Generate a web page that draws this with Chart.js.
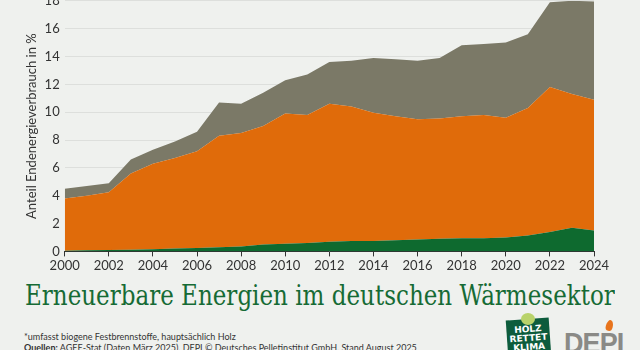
<!DOCTYPE html>
<html lang="de">
<head>
<meta charset="UTF-8">
<title>Erneuerbare Energien im deutschen Wärmesektor</title>
<script src="https://cdn.jsdelivr.net/npm/chart.js"></script>
<style>
  html, body { margin: 0; padding: 0; }
  body { width: 640px; height: 350px; overflow: hidden; background: #eff1ee; position: relative; font-family: Lato, sans-serif; }
  #chart-box { position: absolute; left: 0; top: -12px; width: 640px; height: 288px; }
  #title { position: absolute; left: 25px; top: 282px; font-family: "DejaVu Serif", serif; font-size: 27px; line-height: 1; color: #166b35; white-space: nowrap; transform-origin: left top; }
  .note { position: absolute; left: 24px; font-size: 10px; line-height: 1; color: #333; white-space: nowrap; transform-origin: left top; transform: scaleX(0.9); }
  #note1 { top: 331px; }
  #note2 { top: 342px; }
  #holz { position: absolute; left: 507px; top: 319px; width: 43px; height: 38px; background: #0d5c3c; transform: rotate(-4deg); color: #fff; font: bold 9px/9px "DejaVu Sans", sans-serif; text-align: center; padding-top: 6px; box-sizing: border-box; }
  #leaf { position: absolute; left: 521px; top: 313px; width: 14px; height: 12px; border-radius: 50%; background: #b9d36a; }
  #depi { position: absolute; left: 564px; top: 328px; font: bold 30px/1 "Liberation Sans", sans-serif; color: #8a8a86; letter-spacing: -1px; transform: scaleX(0.9); transform-origin: left top; }
  #flame { position: absolute; left: 606px; top: 320px; width: 7px; height: 11px; background: #e8741c; border-radius: 50% 50% 50% 50% / 60% 60% 40% 40%; transform: rotate(15deg); }
</style>
</head>
<body>

<div id="chart-box"><canvas id="myChart"></canvas></div>

<div id="title">Erneuerbare Energien im deutschen Wärmesektor</div>
<div class="note" id="note1">*umfasst biogene Festbrennstoffe, hauptsächlich Holz</div>
<div class="note" id="note2"><b>Quellen:</b> AGEE-Stat (Daten März 2025), DEPI © Deutsches Pelletinstitut GmbH, Stand August 2025</div>

<div id="holz">HOLZ<br>RETTET<br>KLIMA</div>
<div id="leaf"></div>
<div id="depi">DEPI</div>
<div id="flame"></div>

<script>
// Jahre
const years = [2000, 2001, 2002, 2003, 2004, 2005, 2006, 2007, 2008, 2009, 2010, 2011, 2012,
               2013, 2014, 2015, 2016, 2017, 2018, 2019, 2020, 2021, 2022, 2023, 2024];

// Anteile in % (gestapelt, von unten nach oben)
const gruen = [0.05, 0.08, 0.10, 0.12, 0.15, 0.20, 0.25, 0.30, 0.35, 0.50, 0.55, 0.60, 0.70,
               0.75, 0.75, 0.80, 0.85, 0.90, 0.95, 0.95, 1.00, 1.15, 1.40, 1.70, 1.50];
const festbrennstoffe = [3.75, 3.92, 4.15, 5.48, 6.15, 6.50, 6.95, 8.00, 8.15, 8.50, 9.35, 9.20, 9.90,
                         9.65, 9.20, 8.90, 8.65, 8.65, 8.75, 8.85, 8.60, 9.15, 10.40, 9.60, 9.40];
const sonstige = [0.70, 0.70, 0.65, 1.00, 1.00, 1.20, 1.40, 2.40, 2.10, 2.40, 2.40, 2.90, 3.00,
                  3.30, 3.95, 4.10, 4.20, 4.35, 5.10, 5.10, 5.40, 5.30, 6.10, 6.70, 7.05];

const yTicks = [0, 2, 4, 6, 8, 10, 12, 14, 16, 18];

// Titel auf die Breite des Originals bringen
const title = document.getElementById('title');
title.style.transform = 'scaleX(' + (590 / title.scrollWidth) + ')';

function area(label, data, color, fill) {
  return {
    label: label,
    data: data,
    backgroundColor: color,
    borderColor: color,
    borderWidth: 0,
    pointRadius: 0,
    tension: 0,
    fill: fill
  };
}

const ctx = document.getElementById('myChart').getContext('2d');
new Chart(ctx, {
  type: 'line',
  data: {
    labels: years,
    datasets: [
      area('Sonstige', gruen, '#0e6a2f', 'origin'),
      area('Biogene Festbrennstoffe*', festbrennstoffe, '#e06b0a', '-1'),
      area('Weitere Erneuerbare', sonstige, '#7b7967', '-1')
    ]
  },
  options: {
    responsive: true,
    maintainAspectRatio: false,
    animation: false,
    layout: { padding: { left: 24, right: 46, top: 0, bottom: 0 } },
    plugins: {
      legend: { display: false },
      tooltip: { enabled: false }
    },
    scales: {
      x: {
        offset: false,
        grid: { display: true, drawOnChartArea: false, drawTicks: true, tickLength: 5, color: '#333' },
        border: { display: true, color: '#333', width: 1 },
        ticks: {
          autoSkip: false,
          maxRotation: 0,
          color: '#333',
          font: { family: 'Lato', size: 13 },
          padding: 2,
          callback: function(v, i) { return years[i] % 2 === 0 ? String(years[i]) : null; }
        }
      },
      y: {
        stacked: true,
        min: 0,
        max: 18,
        z: 1,
        afterBuildTicks: function(axis) { axis.ticks = yTicks.map(v => ({ value: v })); },
        grid: { color: 'rgba(0,0,0,0.075)', drawTicks: false },
        border: { display: false },
        ticks: { color: '#333', font: { family: 'Lato', size: 13 }, padding: 5 },
        title: {
          display: true,
          text: 'Anteil Endenergieverbrauch in %',
          color: '#333',
          font: { family: 'Lato', size: 13 },
          padding: { top: 0, bottom: 0 }
        }
      }
    }
  }
});
</script>

</body>
</html>
